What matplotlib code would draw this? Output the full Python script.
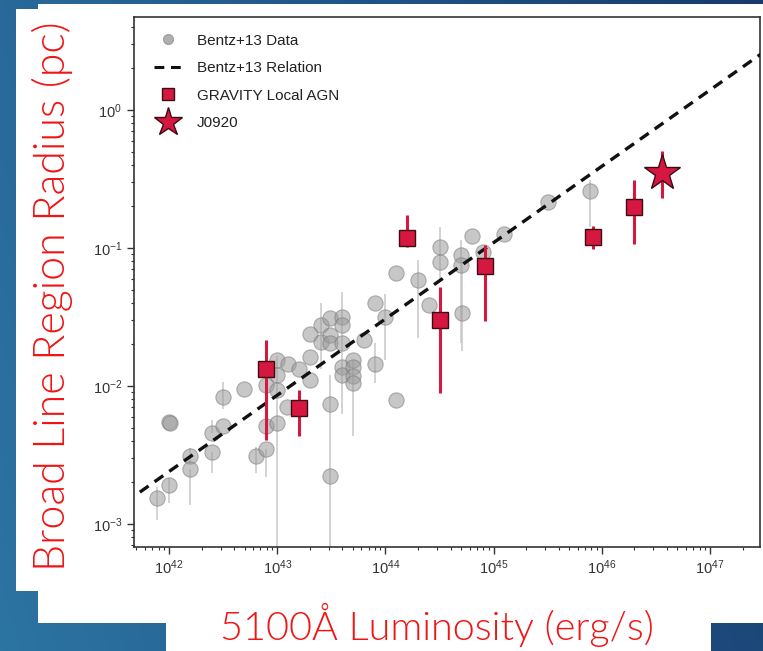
import numpy as np
import matplotlib.pyplot as plt
from matplotlib.colors import LinearSegmentedColormap
from matplotlib.patches import Rectangle
from matplotlib.lines import Line2D

plt.rcParams["font.family"] = ["Liberation Sans", "DejaVu Sans"]
plt.rcParams["mathtext.fontset"] = "custom"
plt.rcParams["mathtext.rm"] = "Liberation Sans"
plt.rcParams["mathtext.it"] = "Liberation Sans:italic"
plt.rcParams["mathtext.bf"] = "Liberation Sans:bold"

# Bentz+13 reverberation sample: log10 L5100 (erg/s), log10 R_BLR (pc), error range
bentz_logL = [41.89, 42.00, 42.00, 42.01, 42.19, 42.19, 42.40, 42.40, 42.50, 42.50,
              42.69, 42.80, 42.90, 42.90, 42.90, 43.00, 43.00, 43.00, 43.00, 43.09,
              43.10, 43.20, 43.30, 43.30, 43.30, 43.40, 43.40, 43.49, 43.49, 43.49,
              43.60, 43.60, 43.60, 43.60, 43.60, 43.70, 43.70, 43.70, 43.70, 43.49,
              43.49, 43.80, 43.90, 43.90, 44.00, 44.10, 44.10, 44.30, 44.40, 44.50,
              44.50, 44.70, 44.70, 44.71, 44.80, 44.90, 45.10, 45.50, 45.89]
bentz_logR = [-2.81, -2.72, -2.26, -2.27, -2.51, -2.60, -2.48, -2.34, -2.08, -2.29,
              -2.02, -2.51, -2.46, -2.29, -1.99, -1.81, -1.92, -2.03, -2.27, -2.15,
              -1.84, -1.88, -1.62, -1.79, -1.96, -1.56, -1.68, -1.51, -1.63, -1.69,
              -1.50, -1.56, -1.69, -1.86, -1.92, -1.81, -1.86, -1.93, -1.98, -2.13,
              -2.65, -1.67, -1.40, -1.84, -1.50, -2.10, -1.18, -1.23, -1.41, -0.99,
              -1.10, -1.05, -1.12, -1.47, -0.91, -1.03, -0.90, -0.67, -0.59]
bentz_lo = [-2.97, -2.85, -2.26, -2.27, -2.56, -2.86, -2.63, -2.34, -2.17, -2.29,
            -2.02, -2.63, -2.66, -2.29, -1.99, -1.81, -1.92, -2.03, -3.40, -2.15,
            -1.84, -1.88, -1.62, -1.79, -1.96, -1.88, -1.68, -1.51, -1.63, -1.69,
            -2.20, -1.56, -1.69, -1.86, -1.92, -2.36, -1.86, -1.93, -1.98, -2.13,
            -3.40, -1.67, -1.40, -1.98, -1.81, -2.10, -1.18, -1.65, -1.41, -1.25,
            -1.10, -1.69, -1.12, -1.75, -0.91, -1.03, -0.90, -0.67, -0.85]
bentz_hi = [-2.73, -2.67, -2.26, -2.27, -2.45, -2.60, -2.48, -2.25, -1.97, -2.29,
            -2.02, -2.44, -2.46, -2.29, -1.99, -1.81, -1.92, -2.03, -1.78, -2.15,
            -1.84, -1.88, -1.62, -1.79, -1.96, -1.40, -1.68, -1.51, -1.63, -1.69,
            -1.32, -1.56, -1.69, -1.86, -1.92, -1.81, -1.86, -1.93, -1.98, -2.13,
            -1.92, -1.67, -1.40, -1.69, -1.33, -2.10, -1.18, -1.09, -1.41, -0.85,
            -1.10, -0.94, -1.12, -1.09, -0.91, -1.03, -0.90, -0.67, -0.51]

# Bentz+13 R-L relation: log R = intercept + slope * (log L - 44)
rl_slope = 0.553
rl_intercept = -1.514

# GRAVITY local AGN
grav_logL = [42.90, 43.20, 44.20, 44.50, 44.92, 45.92, 46.30]
grav_logR = [-1.88, -2.16, -0.93, -1.52, -1.13, -0.92, -0.70]
grav_lo = [-2.39, -2.36, -0.99, -2.05, -1.53, -1.01, -0.97]
grav_hi = [-1.67, -2.03, -0.76, -1.28, -0.98, -0.84, -0.51]

# J0920
j_logL = 46.56
j_logR = -0.46
j_lo = -0.64
j_hi = -0.30

W, H = 763, 651
fig = plt.figure(figsize=(W / 100, H / 100), dpi=100)

# slide background
bg = fig.add_axes([0, 0, 1, 1])
bg.set_axis_off()
cmap = LinearSegmentedColormap.from_list("slide", ["#2c74a2", "#22598c", "#173b6d"])
xx, yy = np.meshgrid(np.linspace(0, 1, 300), np.linspace(0, 1, 300))
bg.imshow(0.8 * xx + 0.2 * yy, cmap=cmap, extent=[0, 1, 0, 1], aspect="auto", origin="lower")
for x0, y0, x1, y1 in [(16, 9, 763, 591), (38, 4, 763, 623), (166, 590, 711, 651)]:
    bg.add_patch(Rectangle((x0 / W, 1 - y1 / H), (x1 - x0) / W, (y1 - y0) / H,
                           facecolor="white", edgecolor="none"))
bg.set_xlim(0, 1)
bg.set_ylim(0, 1)

ax = fig.add_axes([134 / W, 104 / H, 626 / W, 530 / H])
ax.set_xscale("log")
ax.set_yscale("log")

L = 10 ** np.array(bentz_logL)
R = 10 ** np.array(bentz_logR)
err = [R - 10 ** np.array(bentz_lo), 10 ** np.array(bentz_hi) - R]
ax.errorbar(L, R, yerr=err, fmt="none", ecolor="#c8c8c8", elinewidth=1.1, zorder=1)
ax.plot(L, R, "o", ms=11, mfc="#9a9a9a", mec="#7a7a7a", mew=0.8, alpha=0.55, zorder=2)

lx = np.linspace(41.73, 47.6, 50)
ax.plot(10 ** lx, 10 ** (rl_intercept + rl_slope * (lx - 44)), color="#111111",
        lw=2.4, ls=(0, (3.2, 2.2)), zorder=3)

gL = 10 ** np.array(grav_logL)
gR = 10 ** np.array(grav_logR)
gerr = [gR - 10 ** np.array(grav_lo), 10 ** np.array(grav_hi) - gR]
ax.errorbar(gL, gR, yerr=gerr, fmt="none", ecolor="#d6173f", elinewidth=2.2, zorder=4)
ax.plot(gL, gR, "s", ms=12, mfc="#d6173f", mec="#3a0c14", mew=1.0, zorder=5)

jL, jR = 10 ** j_logL, 10 ** j_logR
ax.errorbar([jL], [jR], yerr=[[jR - 10 ** j_lo], [10 ** j_hi - jR]], fmt="none",
            ecolor="#d6173f", elinewidth=2.2, zorder=4)
ax.plot([jL], [jR], "*", ms=27, mfc="#d6173f", mec="#3a0c14", mew=1.0, zorder=5)

ax.set_xlim(10 ** 41.676, 10 ** 47.462)
ax.set_ylim(10 ** -3.167, 10 ** 0.674)
ax.tick_params(which="major", direction="out", length=5, width=1, labelsize=10.5,
               colors="#333333")
ax.tick_params(which="minor", direction="out", length=2.5, width=0.8, colors="#333333")
for s in ax.spines.values():
    s.set_linewidth(1.2)
    s.set_color("#333333")

handles = [
    Line2D([], [], ls="none", marker="o", ms=7, mfc="#b0b0b0", mec="#a0a0a0"),
    Line2D([], [], color="#111111", lw=2.2, ls=(0, (3.2, 2.2))),
    Line2D([], [], ls="none", marker="s", ms=9, mfc="#d6173f", mec="#3a0c14"),
    Line2D([], [], ls="none", marker="*", ms=21, mfc="#d6173f", mec="#3a0c14"),
]
labels = ["Bentz+13 Data", "Bentz+13 Relation", "GRAVITY Local AGN", "J0920"]
ax.legend(handles, labels, loc="upper left", bbox_to_anchor=(0.022, 0.98),
          frameon=False, fontsize=11, labelspacing=0.88, handlelength=1.8,
          handletextpad=1.0, borderaxespad=0, labelcolor="#222222")

fig.text(52 / W, 1 - 296 / H, "Broad Line Region Radius (pc)", rotation=90,
         ha="center", va="center", fontsize=31, color="#f01414", family="Lato",
         fontweight=300)
fig.text(437 / W, 1 - 625 / H, "5100Å Luminosity (erg/s)", ha="center", va="center",
         fontsize=28.5, color="#f01414", family="Lato", fontweight=300)

fig.savefig("out.png", dpi=100)
